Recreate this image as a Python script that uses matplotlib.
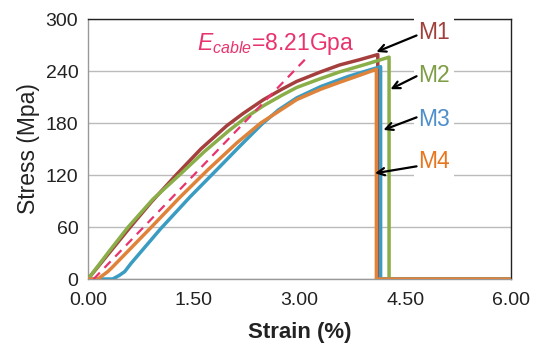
import matplotlib
matplotlib.use("Agg")
import matplotlib.pyplot as plt

plt.rcParams['font.family'] = ['Liberation Sans', 'DejaVu Sans']
plt.rcParams['mathtext.fontset'] = 'custom'
plt.rcParams['mathtext.it'] = 'Liberation Sans:italic'
plt.rcParams['mathtext.rm'] = 'Liberation Sans'

# ---- data ----
m1_strain = [0, 0.3, 0.6, 0.9, 1.26, 1.6, 1.97, 2.2, 2.49, 2.75, 2.96, 3.3, 3.57, 3.85, 4.11, 4.11, 6.0]
m1_stress = [0, 30, 60, 89, 121, 150, 177, 191, 207, 219, 228, 239, 247, 253, 259, 0, 0]

m2_strain = [0, 0.3, 0.57, 0.92, 1.31, 1.65, 2.01, 2.25, 2.49, 2.75, 2.96, 3.29, 3.57, 3.95, 4.27, 4.27, 6.0]
m2_stress = [0, 32, 60, 92, 121, 147, 172, 187, 200, 212, 221, 231, 239, 248, 256, 0, 0]

m3_strain = [0, 0.35, 0.44, 0.52, 0.61, 1.03, 1.45, 1.85, 2.15, 2.47, 2.7, 2.96, 3.3, 3.7, 4.15, 4.15, 6.0]
m3_stress = [0, 0, 4, 8.5, 18, 58, 95, 128, 153, 179, 195, 209, 222, 234, 245, 0, 0]

m4_strain = [0, 0.14, 0.28, 0.35, 0.9, 1.3, 1.7, 2.11, 2.45, 2.96, 3.3, 3.57, 3.85, 4.09, 4.09, 6.0]
m4_stress = [0, 0, 8.5, 14, 60, 94, 126, 157, 180, 207, 219, 227, 235, 242, 0, 0]

ecable_strain = [0.08, 3.11]
ecable_stress = [0.0, 256]

labels = ['M1', 'M2', 'M3', 'M4']
label_xy = [(4.68, 285), (4.68, 235), (4.68, 184.5), (4.68, 136)]
arrow_tail = [(4.66, 281), (4.66, 234), (4.66, 186.5), (4.66, 130)]
arrow_head = [(4.09, 262), (4.29, 219), (4.19, 172), (4.07, 122)]

xticks = [0, 1.5, 3.0, 4.5, 6.0]
xtick_labels = ['0.00', '1.50', '3.00', '4.50', '6.00']
yticks = [0, 60, 120, 180, 240, 300]

line_colors = ['#A43F3D', '#8AAE48', '#3A9CC2', '#E0833A']
label_colors = ['#A0403C', '#7E9E45', '#4F8FCB', '#E8761E']

fig = plt.figure(figsize=(5.44, 3.45), dpi=100)
ax = fig.add_axes([0.1618, 0.1913, 0.7776, 0.7536])

for xs, ys, c in zip([m1_strain, m2_strain, m3_strain, m4_strain],
                     [m1_stress, m2_stress, m3_stress, m4_stress], line_colors):
    ax.plot(xs, ys, color=c, lw=2.5, solid_joinstyle='round', zorder=3)

ax.plot(ecable_strain, ecable_stress, color='#E8336D', lw=1.6, ls=(0, (4, 3)), zorder=4)
ax.text(1.55, 264, r'$E_{cable}$=8.21Gpa', color='#E8336D', fontsize=16.5,
        ha='left', va='baseline', zorder=5)

for lab, (lx, ly), t, h, c in zip(labels, label_xy, arrow_tail, arrow_head, label_colors):
    ax.text(lx, ly, lab, color=c, fontsize=16.5, ha='left', va='center', zorder=6,
            bbox=dict(facecolor='white', edgecolor='none', pad=3), clip_on=False)
    ax.annotate('', xy=h, xytext=t,
                arrowprops=dict(arrowstyle='->', color='black', lw=1.6,
                                mutation_scale=13, shrinkA=0, shrinkB=0),
                zorder=7, annotation_clip=False)

ax.set_xlim(0, 6.0)
ax.set_ylim(0, 300)
ax.set_xticks(xticks)
ax.set_xticklabels(xtick_labels)
ax.set_yticks(yticks)
ax.tick_params(length=0, labelsize=14, colors='#222222')
ax.tick_params(axis='x', pad=9)
ax.tick_params(axis='y', pad=7)
ax.grid(axis='y', color='#BBBBBB', lw=1.0, zorder=0)
ax.set_axisbelow(True)

for s in ['left', 'bottom']:
    ax.spines[s].set_color('#999999')
    ax.spines[s].set_linewidth(1.0)
for s in ['top', 'right']:
    ax.spines[s].set_color('#222222')
    ax.spines[s].set_linewidth(1.0)

ax.set_xlabel('Strain (%)', fontsize=16, fontweight='bold', labelpad=10, color='#222222')
ax.set_ylabel('Stress (Mpa)', fontsize=16.5, labelpad=4, color='#222222')

fig.savefig('out.png', dpi=100)
